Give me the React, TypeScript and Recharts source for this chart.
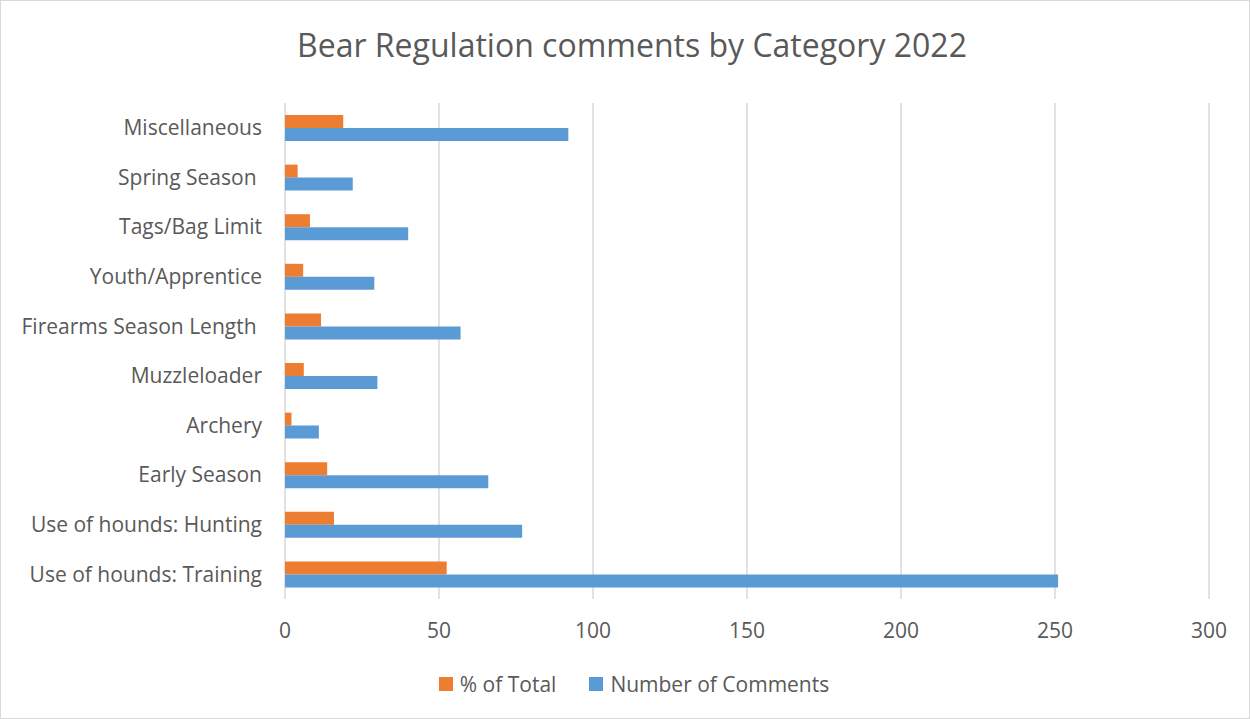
import { BarChart, Bar, XAxis, YAxis, CartesianGrid, Legend } from 'recharts';

const categories = [
  'Miscellaneous',
  'Spring Season\u00a0',
  'Tags/Bag Limit',
  'Youth/Apprentice',
  'Firearms Season Length\u00a0',
  'Muzzleloader',
  'Archery',
  'Early Season',
  'Use of hounds: Hunting',
  'Use of hounds: Training',
];
const pctOfTotal = [18.9, 4.1, 8.1, 5.9, 11.7, 6.1, 2.1, 13.7, 15.9, 52.5];
const numComments = [92, 22, 40, 29, 57, 30, 11, 66, 77, 251];
const xTicks = [0, 50, 100, 150, 200, 250, 300];

const data = categories.map((name, i) => ({
  name,
  pct: pctOfTotal[i],
  count: numComments[i],
}));

const FONT = '"Open Sans", Lato, sans-serif';
const TEXT = '#595959';

function LegendContent({ payload }: any) {
  return (
    <div style={{ display: 'flex', justifyContent: 'center', alignItems: 'center', height: 30, gap: 33, paddingLeft: 18 }}>
      {(payload || []).map((p: any) => (
        <div key={p.value} style={{ display: 'flex', alignItems: 'center', gap: 7, fontSize: 21, color: TEXT, fontFamily: FONT }}>
          <div style={{ width: 14, height: 14, background: p.color }} />
          {p.value}
        </div>
      ))}
    </div>
  );
}

export default function App() {
  return (
    <div style={{ position: 'absolute', left: 0, top: 0, width: 1250, height: 719, boxSizing: 'border-box', border: '1px solid #d9d9d9', background: '#fff' }}>
      <div style={{ position: 'absolute', left: 6, top: 26, width: 1250, textAlign: 'center', fontFamily: FONT, fontSize: 32, lineHeight: '36px', color: TEXT }}>
        Bear Regulation comments by Category 2022
      </div>
      <div style={{ position: 'absolute', left: -1, top: -1 }}>
        <BarChart
          width={1250}
          height={719}
          data={data}
          layout="vertical"
          margin={{ top: 103, right: 41, bottom: 20, left: 0 }}
          barGap={0}
          barSize={13}
        >
          <CartesianGrid horizontal={false} stroke="#d9d9d9" strokeWidth={1.5} />
          <XAxis
            type="number"
            domain={[0, 300]}
            ticks={xTicks}
            axisLine={false}
            tickLine={false}
            tickSize={0}
            tickMargin={24}
            height={70}
            tick={{ fill: TEXT, fontSize: 21, fontFamily: FONT }}
          />
          <YAxis
            type="category"
            dataKey="name"
            width={285}
            axisLine={false}
            tickLine={false}
            tickSize={0}
            tickMargin={23}
            interval={0}
            tick={{ fill: TEXT, fontSize: 21, fontFamily: FONT }}
          />
          <Legend
            verticalAlign="bottom"
            wrapperStyle={{ left: 0, width: 1250 }}
            content={<LegendContent />}
          />
          <Bar dataKey="pct" name="% of Total" fill="#ed7d31" isAnimationActive={false} />
          <Bar dataKey="count" name="Number of Comments" fill="#5b9bd5" isAnimationActive={false} />
        </BarChart>
      </div>
    </div>
  );
}
